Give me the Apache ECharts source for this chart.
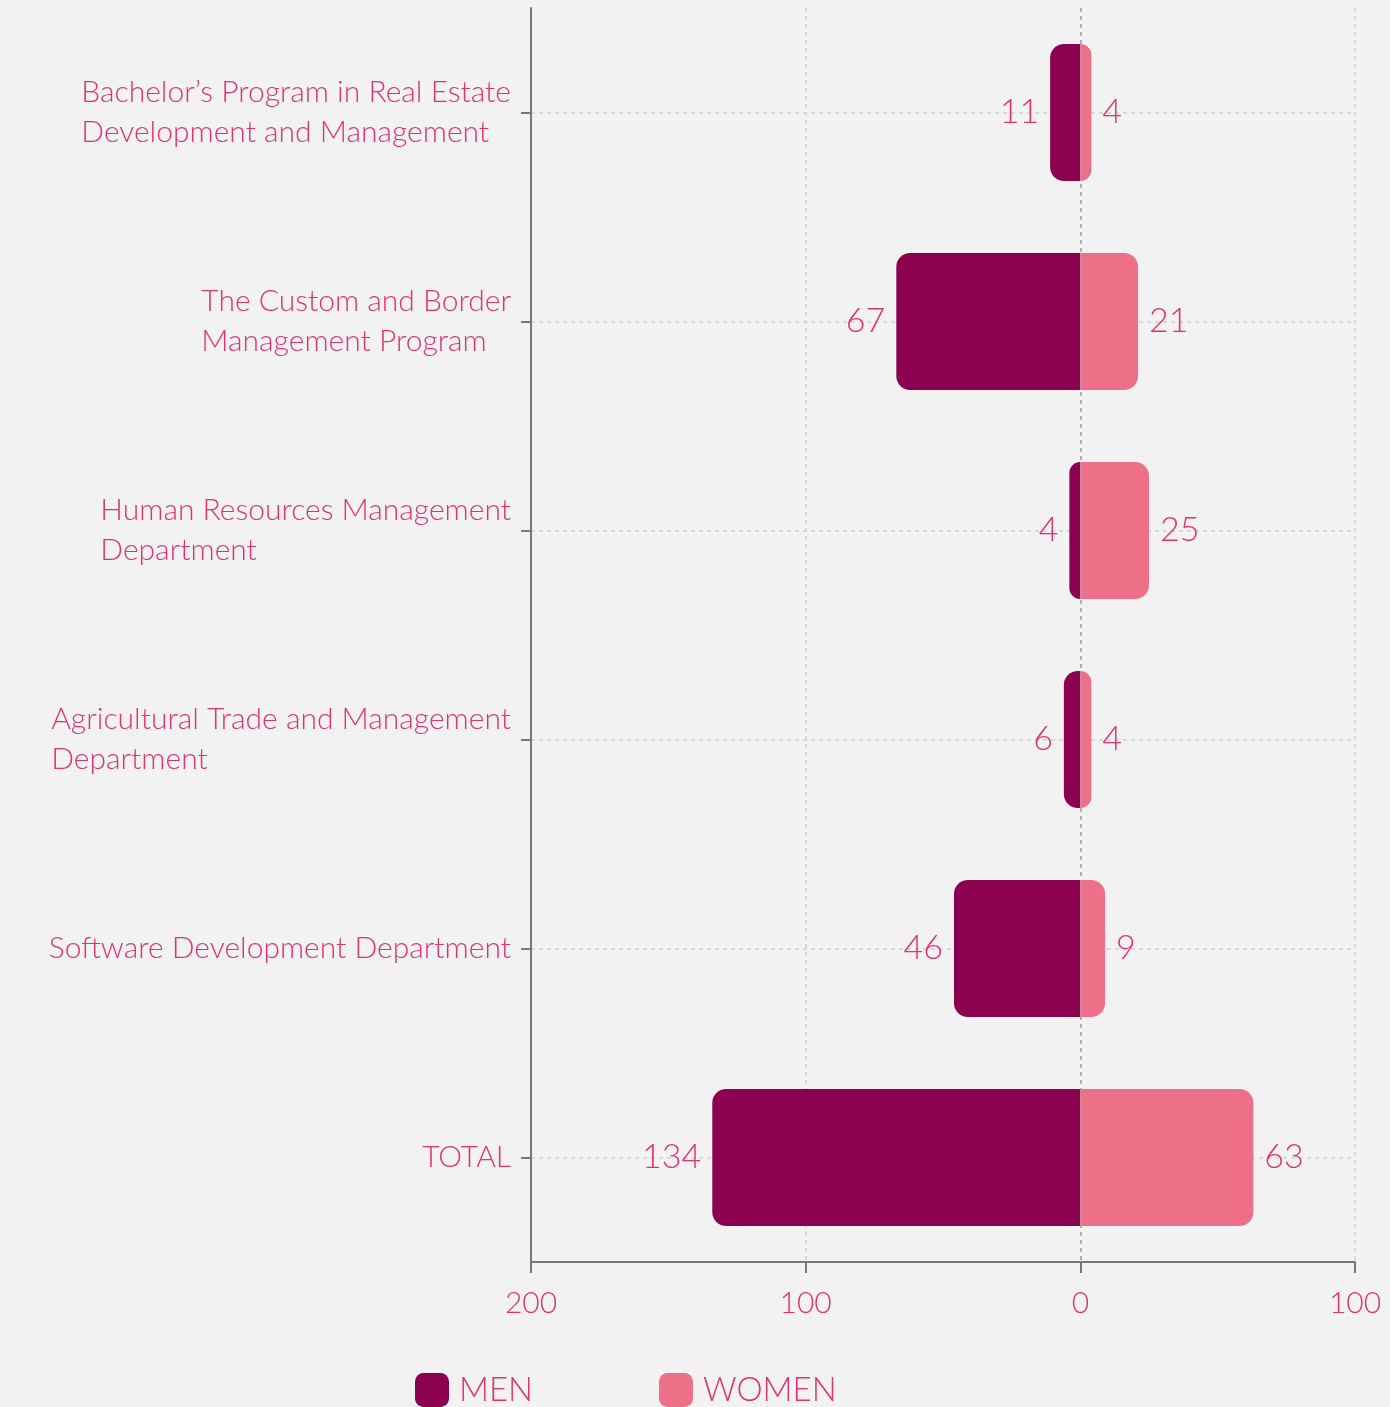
<!DOCTYPE html>
<html>
<head>
<meta charset="utf-8">
<script src="https://cdn.jsdelivr.net/npm/echarts@6/dist/echarts.min.js"></script>
<style>
html,body{margin:0;padding:0;background:#f2f2f2;}
#c{width:1390px;height:1407px;}
</style>
</head>
<body>
<div id="c"></div>
<script>
const categories = [
  "Bachelor\u2019s Program in Real Estate\nDevelopment and Management",
  "The Custom and Border\nManagement Program",
  "Human Resources Management\nDepartment",
  "Agricultural Trade and Management\nDepartment",
  "Software Development Department",
  "TOTAL"
];
const men = [11, 67, 4, 6, 46, 134];
const women = [4, 21, 25, 4, 9, 63];
const xTicks = { min: -200, max: 100, interval: 100 };

const FONT = "Lato";
const TXT = "#e0336b";
const MEN_C = "#8b004f";
const WOMEN_C = "#ed6f88";

const chart = echarts.init(document.getElementById('c'));
chart.setOption({
  backgroundColor: '#f2f2f2',
  animation: false,
  textStyle: { fontFamily: FONT },
  grid: { left: 531, right: 35, top: 8, bottom: 145, containLabel: false },
  legend: [
    { data: ['MEN'], left: 415, top: 1373, padding: 0, itemWidth: 34, itemHeight: 34, itemGap: 11,
      icon: 'roundRect',
      textStyle: { color: TXT, fontSize: 33, fontFamily: FONT, fontWeight: 300, padding: [6,0,0,5] } },
    { data: ['WOMEN'], left: 659, top: 1373, padding: 0, itemWidth: 34, itemHeight: 34, itemGap: 11,
      icon: 'roundRect',
      textStyle: { color: TXT, fontSize: 33, fontFamily: FONT, fontWeight: 300, padding: [6,0,0,5] } }
  ],
  xAxis: {
    type: 'value',
    min: xTicks.min, max: xTicks.max, interval: xTicks.interval,
    axisLine: { show: true, onZero: false, lineStyle: { color: '#777', width: 2 } },
    axisTick: { show: true, length: 11, lineStyle: { color: '#777', width: 2 } },
    axisLabel: { color: TXT, fontSize: 30, fontFamily: FONT, fontWeight: 300, margin: 26,
      formatter: v => String(Math.abs(v)) },
    splitLine: { show: true, lineStyle: { color: '#cfcfcf', type: [4, 4], width: 1.5 } }
  },
  yAxis: {
    type: 'category',
    inverse: true,
    data: categories,
    axisLine: { show: true, onZero: false, lineStyle: { color: '#777', width: 2 } },
    axisTick: { show: true, alignWithLabel: true, length: 10, lineStyle: { color: '#777', width: 2 } },
    splitLine: { show: true, alignWithLabel: true, lineStyle: { color: '#cfcfcf', type: [4, 4], width: 1.5 } },
    axisLabel: {
      margin: 20,
      color: TXT,
      fontSize: 30,
      fontFamily: FONT,
      fontWeight: 300,
      lineHeight: 40,
      formatter: v => v.split('\n').map(l => '{a|' + l + '}').join('\n'),
      rich: { a: { align: 'left', color: TXT, fontSize: 30, fontFamily: FONT, fontWeight: 300, lineHeight: 40 } }
    }
  },
  series: [
    {
      name: 'MEN', type: 'bar', stack: 'all', barWidth: 137,
      data: men.map(v => -v),
      itemStyle: { color: MEN_C, borderRadius: [14, 0, 0, 14] },
      label: { show: true, position: 'left', distance: 11, color: TXT, fontSize: 34, fontFamily: FONT, fontWeight: 300,
        formatter: p => String(Math.abs(p.value)) }
    },
    {
      name: 'WOMEN', type: 'bar', stack: 'all', barWidth: 137,
      data: women,
      itemStyle: { color: WOMEN_C, borderRadius: [0, 14, 14, 0] },
      label: { show: true, position: 'right', distance: 11, color: TXT, fontSize: 34, fontFamily: FONT, fontWeight: 300 },
      markLine: {
        silent: true, symbol: 'none', label: { show: false },
        lineStyle: { color: '#a0a0a0', type: [4, 4], width: 1.5 },
        data: [{ xAxis: 0 }]
      }
    }
  ]
});
</script>
</body>
</html>
